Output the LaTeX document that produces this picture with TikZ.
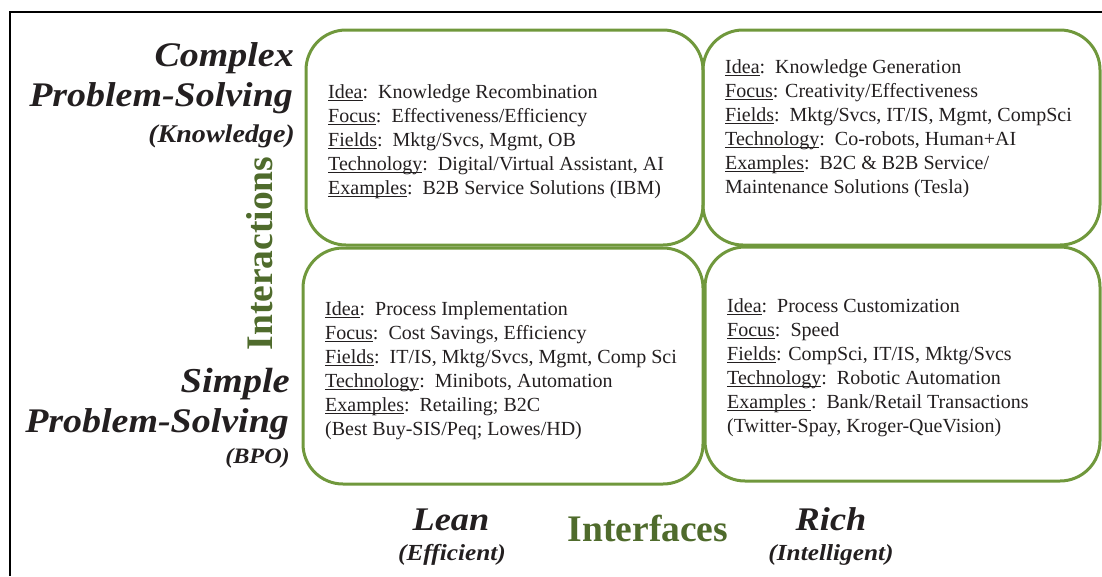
\documentclass[tikz,border=0pt]{standalone}
\usepackage{fontspec}
\setmainfont{Liberation Serif}
\newfontfamily\headfont{Liberation Serif}[FakeStretch=1.1]
\newfontfamily\axisfont{Liberation Serif}

\definecolor{quadgreen}{RGB}{112,152,60}
\definecolor{axisgreen}{RGB}{79,107,44}
\definecolor{ink}{RGB}{35,31,32}

% underline at a fixed depth, crossing descenders
\newcommand\ulw[1]{{\setbox0=\hbox{#1}\rlap{\rule[-2.6pt]{\wd0}{0.9pt}}\box0}}
\newcommand\firstline{\rule{0pt}{16pt}}

\begin{document}
\begin{tikzpicture}[x=1pt,y=-1pt,
  quad/.style={draw=quadgreen, line width=3pt, rounded corners=40pt,
    rectangle, inner sep=0pt, outer sep=0pt},
  body/.style={anchor=north west, inner sep=0pt, align=left, text=ink,
    font=\fontsize{20}{24}\selectfont},
  headbig/.style={anchor=base east, inner sep=0pt, text=ink,
    font=\headfont\bfseries\itshape\fontsize{34.5}{36}\selectfont},
  headsmall/.style={anchor=base east, inner sep=0pt, text=ink,
    font=\headfont\bfseries\itshape\fontsize{25.5}{28}\selectfont},
  lowbig/.style={anchor=base, inner sep=0pt, text=ink,
    font=\headfont\bfseries\itshape\fontsize{33}{36}\selectfont},
  lowsmall/.style={anchor=base, inner sep=0pt, text=ink,
    font=\headfont\bfseries\itshape\fontsize{23}{26}\selectfont},
  axis/.style={anchor=base, inner sep=0pt, text=axisgreen,
    font=\axisfont\bfseries\fontsize{37.5}{40}\selectfont}]

\useasboundingbox (0,0) rectangle (1102,576);

% frame lines at top and left
\coordinate (frameR) at (1102,12);
\coordinate (frameC) at (10,12);
\coordinate (frameB) at (10,576);
\draw[line width=2pt] (frameR) -- (frameC) -- (frameB);

% the four quadrants
\node[quad, minimum width=397pt, minimum height=215pt] (tl) at (504.5,137.5) {};
\node[quad, minimum width=397pt, minimum height=215pt] (tr) at (901.5,137.5) {};
\node[quad, minimum width=400pt, minimum height=236pt] (bl) at (503,366) {};
\node[quad, minimum width=395pt, minimum height=234pt] (br) at (902.5,364) {};

% quadrant contents
\node[body] (tltext) at (328,82) {\firstline\ulw{Idea}:\ \ Knowledge Recombination\\
  \ulw{Focus}:\ \ Effectiveness/Efficiency\\
  \ulw{Fields}:\ \ Mktg/Svcs, Mgmt, OB\\
  \ulw{Technology}:\ \ Digital/Virtual Assistant, AI\\
  \ulw{Examples}:\ \ B2B Service Solutions (IBM)};

\node[body] (trtext) at (725,57) {\firstline\ulw{Idea}:\ \ Knowledge Generation\\
  \ulw{Focus}: Creativity/Effectiveness\\
  \ulw{Fields}:\ \ Mktg/Svcs, IT/IS, Mgmt, CompSci\\
  \ulw{Technology}:\ \ Co-robots, Human+AI\\
  \ulw{Examples}:\ \ B2C \& B2B Service/\\
  Maintenance Solutions (Tesla)};

\node[body] (bltext) at (325,299) {\firstline\ulw{Idea}:\ \ Process Implementation\\
  \ulw{Focus}:\ \ Cost Savings, Efficiency\\
  \ulw{Fields}:\ \ IT/IS, Mktg/Svcs, Mgmt, Comp Sci\\
  \ulw{Technology}:\ \ Minibots, Automation\\
  \ulw{Examples}:\ \ Retailing; B2C\\
  (Best Buy-SIS/Peq; Lowes/HD)};

\node[body] (brtext) at (727,296) {\firstline\ulw{Idea}:\ \ Process Customization\\
  \ulw{Focus}:\ \ Speed\\
  \ulw{Fields}: CompSci, IT/IS, Mktg/Svcs\\
  \ulw{Technology}:\ \ Robotic Automation\\
  \ulw{Examples\ }:\ \ Bank/Retail Transactions\\
  (Twitter-Spay, Kroger-QueVision)};

% vertical axis labels
\node[headbig] (cx1) at (294,66) {Complex};
\node[headbig] (cx2) at (293,106) {Problem-Solving};
\node[headsmall] (cx3) at (295,142) {(Knowledge)};

\node[headbig, font=\headfont\bfseries\itshape\fontsize{35}{36}\selectfont] (sp1) at (290,392) {Simple};
\node[headbig] (sp2) at (289,432) {Problem-Solving};
\node[headsmall, font=\headfont\bfseries\itshape\fontsize{22}{26}\selectfont] (sp3) at (290,463) {(BPO)};

\node[axis, rotate=90] (interactions) at (272,253.5) {Interactions};

% horizontal axis labels
\node[lowbig] (lean) at (451,530) {Lean};
\node[lowsmall] (efficient) at (452,560) {(Efficient)};
\node[axis] (interfaces) at (648,541) {Interfaces};
\node[lowbig] (rich) at (831,530) {Rich};
\node[lowsmall] (intelligent) at (831,560) {(Intelligent)};

\end{tikzpicture}
\end{document}
